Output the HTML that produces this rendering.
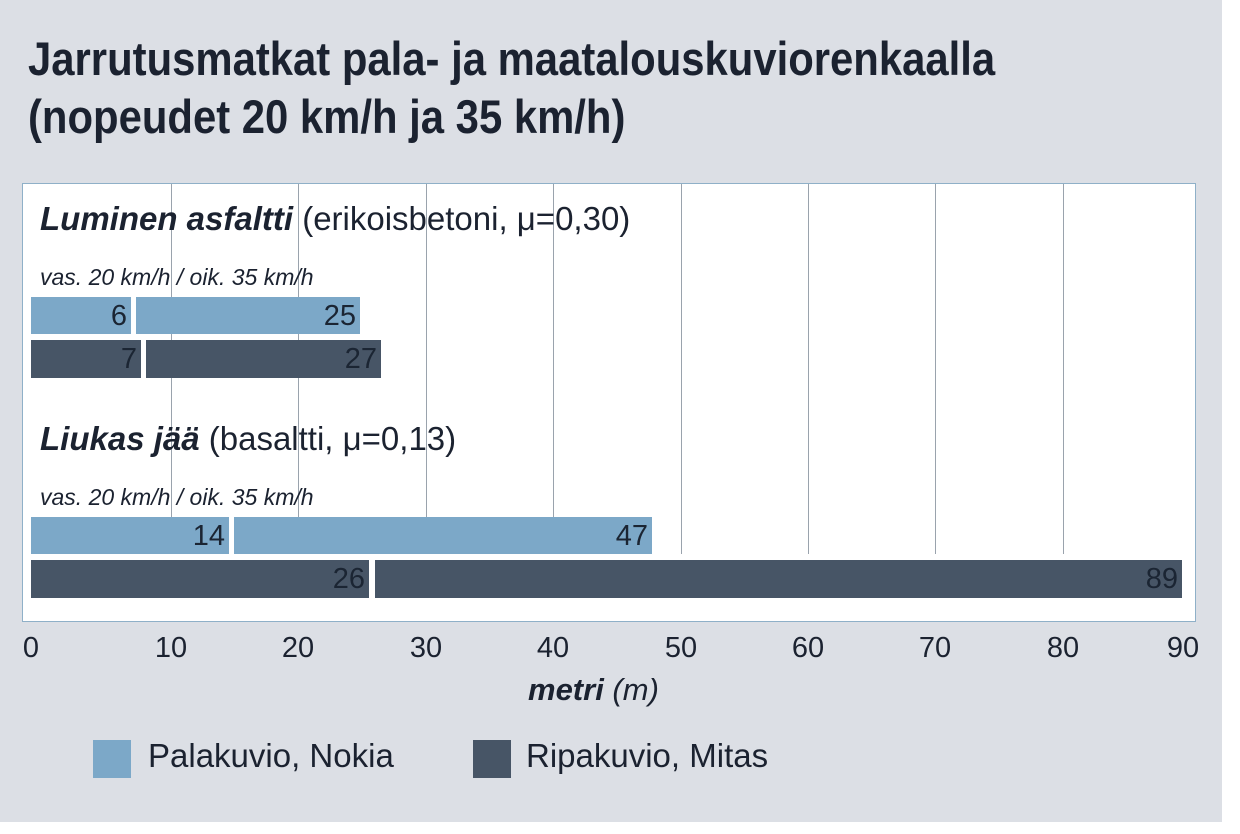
<!DOCTYPE html>
<html><head><meta charset="utf-8"><style>
body{margin:0;width:1240px;height:834px;background:#fff;position:relative;overflow:hidden;font-family:"Liberation Sans",sans-serif;color:#1b2230}
.a{position:absolute;white-space:nowrap}
.bg{left:0;top:0;width:1222px;height:822px;background:#dcdfe5}
.box{left:22px;top:183px;width:1172px;height:437px;background:#fff;border:1px solid #8fb0c8}
.g{top:184px;height:370px;width:1px;background:#9aa3ad}
.b{background:#7ca8c8;height:37px}
.d{background:#475566;height:38px}
.v{font-size:29px;text-align:right;padding-right:4px;box-sizing:border-box;line-height:38px;color:#1b2533}
.t{font-size:29px;text-align:center;width:60px;top:632px}
.s{font-size:23px;font-style:italic}
</style></head><body>
<div class="a bg"></div>
<div class="a" style="left:28px;top:30px;font-size:47px;font-weight:bold;line-height:58px;color:#1b2230;transform:scaleX(0.89);transform-origin:left">Jarrutusmatkat pala- ja maatalouskuviorenkaalla<br>(nopeudet 20 km/h ja 35 km/h)</div>
<div class="a box"></div>
<div class="a g" style="left:171px"></div><div class="a g" style="left:298px"></div><div class="a g" style="left:426px"></div><div class="a g" style="left:553px"></div><div class="a g" style="left:681px"></div><div class="a g" style="left:808px"></div><div class="a g" style="left:935px"></div><div class="a g" style="left:1063px"></div>
<div class="a" style="left:40px;top:200px;font-size:33px"><b><i>Luminen asfaltti</i></b> (erikoisbetoni, μ=0,30)</div>
<div class="a s" style="left:40px;top:264px">vas. 20 km/h / oik. 35 km/h</div>
<div class="a b v" style="left:31px;top:297px;width:100px">6</div>
<div class="a b v" style="left:136px;top:297px;width:224px">25</div>
<div class="a d v" style="left:31px;top:340px;width:110px">7</div>
<div class="a d v" style="left:146px;top:340px;width:235px">27</div>
<div class="a" style="left:40px;top:420px;font-size:33px"><b><i>Liukas jää</i></b> (basaltti, μ=0,13)</div>
<div class="a s" style="left:40px;top:484px">vas. 20 km/h / oik. 35 km/h</div>
<div class="a b v" style="left:31px;top:517px;width:198px">14</div>
<div class="a b v" style="left:234px;top:517px;width:418px">47</div>
<div class="a d v" style="left:31px;top:560px;width:338px">26</div>
<div class="a d v" style="left:375px;top:560px;width:807px">89</div>
<div class="a t" style="left:1px">0</div><div class="a t" style="left:141px">10</div><div class="a t" style="left:268px">20</div><div class="a t" style="left:396px">30</div><div class="a t" style="left:523px">40</div><div class="a t" style="left:651px">50</div><div class="a t" style="left:778px">60</div><div class="a t" style="left:905px">70</div><div class="a t" style="left:1033px">80</div><div class="a t" style="left:1153px">90</div>
<div class="a" style="left:528px;top:672px;font-size:31px;font-style:italic"><b>metri</b> (m)</div>
<div class="a" style="left:93px;top:740px;width:38px;height:38px;background:#7ca8c8"></div>
<div class="a" style="left:148px;top:737px;font-size:33px">Palakuvio, Nokia</div>
<div class="a" style="left:473px;top:740px;width:38px;height:38px;background:#475566"></div>
<div class="a" style="left:526px;top:737px;font-size:33px">Ripakuvio, Mitas</div>
</body></html>
